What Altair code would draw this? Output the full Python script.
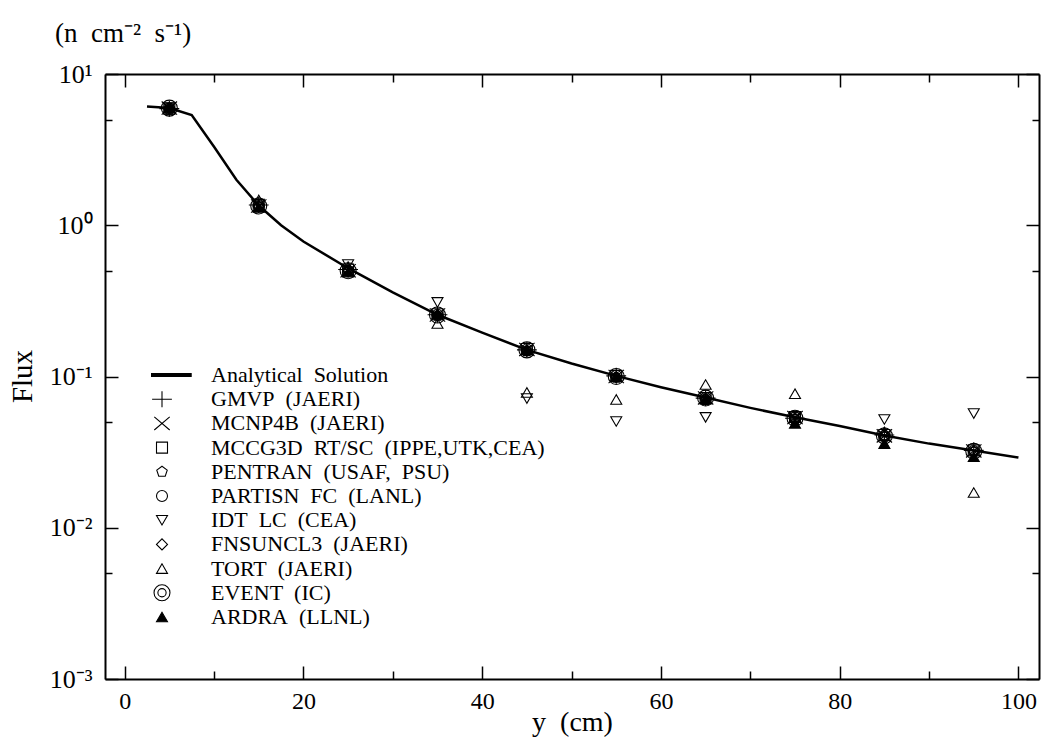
import altair as alt
import pandas as pd

# ---------------- data ----------------
x_line = [2.5, 5, 7.5, 10, 12.5, 15, 17.5, 20, 25, 30, 35, 40, 45, 50, 55, 60, 65, 70, 75, 80, 85, 90, 95, 100]
flux_line = [6.1, 5.95, 5.35, 3.3, 2.0, 1.35, 1.0, 0.78, 0.52, 0.36, 0.256, 0.195, 0.150, 0.122,
             0.101, 0.085, 0.0726, 0.062, 0.0537, 0.047, 0.0407, 0.036, 0.0324, 0.0291]

x_pts = [5, 15, 25, 35, 45, 55, 65, 75, 85, 95]

NB = "\u00a0 "
codes = [
    "Analytical" + NB + "Solution",
    "GMVP" + NB + "(JAERI)",
    "MCNP4B" + NB + "(JAERI)",
    "MCCG3D" + NB + "RT/SC" + NB + "(IPPE,UTK,CEA)",
    "PENTRAN" + NB + "(USAF," + NB + "PSU)",
    "PARTISN" + NB + "FC" + NB + "(LANL)",
    "IDT" + NB + "LC" + NB + "(CEA)",
    "FNSUNCL3" + NB + "(JAERI)",
    "TORT" + NB + "(JAERI)",
    "EVENT" + NB + "(IC)",
    "ARDRA" + NB + "(LLNL)",
]

gmvp    = [5.90, 1.36, 0.51, 0.256, 0.150, 0.101, 0.0720, 0.0530, 0.0410, 0.0325]
mcnp4b  = [5.95, 1.34, 0.50, 0.255, 0.151, 0.100, 0.0722, 0.0535, 0.0405, 0.0322]
mccg3d  = [5.90, 1.35, 0.51, 0.258, 0.152, 0.101, 0.0720, 0.0540, 0.0410, 0.0325]
pentran = [5.80, 1.33, 0.50, 0.252, 0.147, 0.098, 0.0700, 0.0520, 0.0400, 0.0320]
partisn = [5.90, 1.34, 0.50, 0.256, 0.151, 0.101, 0.0720, 0.0535, 0.0405, 0.0322]
idt     = [6.00, 1.38, 0.55, 0.309, 0.0715, 0.0504, 0.0537, 0.0540, 0.0520, 0.0569]
fnsuncl3= [5.90, 1.33, 0.50, 0.252, 0.148, 0.099, 0.0715, 0.0530, 0.0402, 0.0320]
tort    = [6.00, 1.47, 0.53, 0.224, 0.0784, 0.0705, 0.0885, 0.0770, 0.0430, 0.0171]
event   = [5.95, 1.34, 0.50, 0.255, 0.150, 0.100, 0.0720, 0.0530, 0.0405, 0.0320]
ardra   = [6.00, 1.31, 0.49, 0.260, 0.150, 0.100, 0.0710, 0.0490, 0.0360, 0.0295]

series = [gmvp, mcnp4b, mccg3d, pentran, partisn, idt, fnsuncl3, tort, event, ardra]

x_ticks = [0, 10, 20, 30, 40, 50, 60, 70, 80, 90, 100]
y_ticks = [0.001, 0.005, 0.01, 0.05, 0.1, 0.5, 1, 5, 10]

# ---------------- tables ----------------
line_df = pd.DataFrame({"y": x_line, "flux": flux_line})
rows = []
for name, vals in zip(codes[1:], series):
    for xv, fv in zip(x_pts, vals):
        rows.append({"y": xv, "flux": fv, "code": name})
pts_df = pd.DataFrame(rows)

shapes = [
    "M-5.3,-0.27L5.3,-0.27L5.3,0.27L-5.3,0.27Z",
    "M-1.8,0L1.8,0M0,-1.45L0,1.45",
    "M-1.4,-1.2L1.4,1.2M-1.4,1.2L1.4,-1.2",
    "square",
    "M0,-1L0.951,-0.309L0.588,0.809L-0.588,0.809L-0.951,-0.309Z",
    "circle",
    "triangle-down",
    "diamond",
    "triangle-up",
    "M-1.45,0A1.45,1.45 0 1,1 1.45,0A1.45,1.45 0 1,1 -1.45,0ZM-0.75,0A0.75,0.75 0 1,1 0.75,0A0.75,0.75 0 1,1 -0.75,0Z",
    "triangle-up",
]
fills = ["black"] + ["transparent"] * 9 + ["black"]
strokes = ["black"] * 11

FONT = "Liberation Serif"

xscale = alt.Scale(domain=[-2.2, 102.3], nice=False, zero=False)
yscale = alt.Scale(type="log", domain=[0.001, 10], nice=False)

x_major = "datum.value % 20 == 0"
y_major = "abs(log(datum.value)/LN10 - round(log(datum.value)/LN10)) < 0.01"
y_label = ("datum.value == 10 ? '10\u00b9' : datum.value == 1 ? '10\u2070' : "
           "datum.value == 0.1 ? '10\u207b\u00b9' : datum.value == 0.01 ? '10\u207b\u00b2' : "
           "datum.value == 0.001 ? '10\u207b\u00b3' : ''")

common = dict(grid=False, domainColor="black", domainWidth=2, tickColor="black", tickWidth=1.5,
              labelFont=FONT, labelColor="black", titleFont=FONT, titleColor="black",
              titleFontWeight="normal")

x_bottom = alt.Axis(values=x_ticks, orient="bottom",
                    tickSize={"expr": f"{x_major} ? -13 : -8"},
                    labelExpr=f"{x_major} ? datum.label : ''",
                    labelFontSize=24, labelPadding=23, labelFlush=False,
                    title="y\u00a0 (cm)", titleFontSize=28, titleX=467, titleY=43,
                    titleBaseline="middle", **common)
y_left = alt.Axis(values=y_ticks, orient="left",
                  tickSize={"expr": f"{y_major} ? -13 : -7"},
                  labelExpr=y_label, labelFontSize=26, labelPadding=26,
                  title="Flux", titleFontSize=29, titleX=-83, titleY=302,
                  titleAngle=-90, titleBaseline="middle", **common)
x_top = alt.Axis(values=x_ticks, orient="top", labels=False, title=None,
                 tickSize={"expr": f"{x_major} ? -13 : -8"}, **common)
y_right = alt.Axis(values=y_ticks, orient="right", labels=False, title=None,
                   tickSize={"expr": f"{y_major} ? -13 : -7"}, **common)

line = alt.Chart(line_df).mark_line(color="black", strokeWidth=2.5).encode(
    x=alt.X("y:Q", scale=xscale, axis=x_bottom),
    y=alt.Y("flux:Q", scale=yscale, axis=y_left),
)

points = alt.Chart(pts_df).mark_point(color="black", strokeWidth=1.1, size=121, opacity=1).encode(
    x=alt.X("y:Q", scale=xscale, axis=x_top),
    y=alt.Y("flux:Q", scale=yscale, axis=y_right),
    shape=alt.Shape("code:N", scale=alt.Scale(domain=codes, range=shapes),
                    legend=alt.Legend(title=None, orient="none", legendX=46, legendY=291,
                                      labelFont=FONT, labelFontSize=22, labelColor="black",
                                      labelOffset=38, symbolSize=121, symbolStrokeWidth=1.1,
                                      clipHeight=20, rowPadding=2.2,
                                      padding=0, labelLimit=600)),
    fill=alt.Fill("code:N", scale=alt.Scale(domain=codes, range=fills), legend=None),
    stroke=alt.Stroke("code:N", scale=alt.Scale(domain=codes, range=strokes), legend=None),
)

chart = alt.layer(line, points).properties(
    width=934, height=605,
    autosize=alt.AutoSizeParams(type="none"),
    padding={"left": 105, "top": 74, "right": 5, "bottom": 63},
    title=alt.TitleParams("(n\u00a0 cm\u207b\u00b2\u00a0 s\u207b\u00b9)", anchor="start", frame="group",
                          dx=-50, dy=39, offset=31,
                          baseline="alphabetic", font=FONT, fontSize=27, fontWeight="normal",
                          color="black"),
).configure_view(stroke=None).configure(background="white")

chart.save("out.html", embed_options={"renderer": "svg", "actions": False})
